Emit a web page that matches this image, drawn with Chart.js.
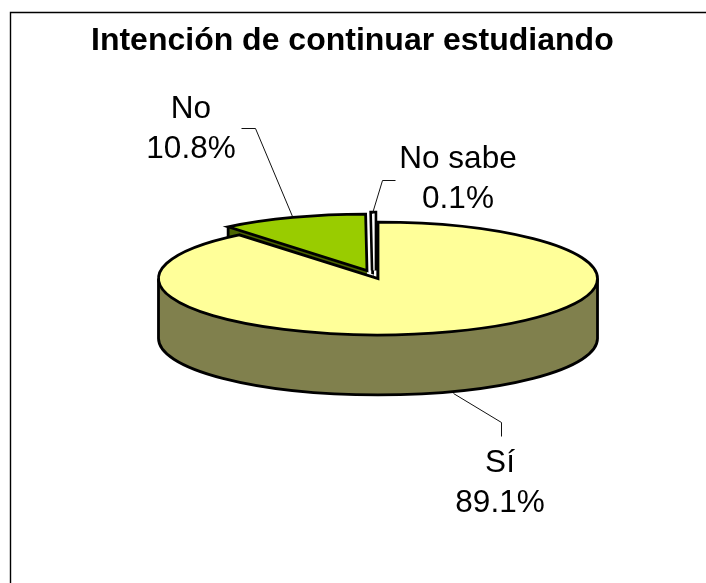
<!DOCTYPE html>
<html lang="es">
<head>
<meta charset="UTF-8">
<title>Intención de continuar estudiando</title>
<script src="https://cdn.jsdelivr.net/npm/chart.js"></script>
<style>
    html, body { margin: 0; padding: 0; background: #fff; }
    canvas { display: block; }
</style>
</head>
<body>
<canvas id="pie3d" width="706" height="583"></canvas>
<script>
const titleText = 'Intención de continuar estudiando';
const categories = ['Sí', 'No', 'No sabe'];
const values = [89.1, 10.8, 0.1];
const topColors = ['#ffff99', '#99cc00', '#ffffff'];
const sideColors = ['#80804d', '#4d6600', '#808080'];

// look of the fake 3D pie (the library only does flat ones)
const squash = 0.257;
const depth = 60;
const outline = 2.8;
const sliceShift = [{ x: 0, y: 0 }, { x: -11, y: -8 }, { x: -4, y: -8 }];
const drawOrder = [1, 2, 0];

// callouts: text centre + leader line, in page pixels
const labelCentres = [{ x: 500, y: 472 }, { x: 191, y: 118 }, { x: 458, y: 168 }];
const leaders = [
    [[453, 393], [501, 422], [501, 436]],
    [[292, 216], [255, 128], [241, 128]],
    [[372, 213], [382, 180], [395, 180]]
];

function drawWall(ctx, arc, i) {
    const r = arc.outerRadius, ry = r * squash;
    const cx = arc.x + sliceShift[i].x, cy = arc.y + sliceShift[i].y;
    const a0 = arc.startAngle, a1 = arc.endAngle;
    const px = a => cx + r * Math.cos(a);
    const py = a => cy + ry * Math.sin(a);

    ctx.fillStyle = sideColors[i];
    ctx.strokeStyle = '#000';
    ctx.lineWidth = outline;
    ctx.lineJoin = 'miter';

    // cut faces
    [a0, a1].forEach(a => {
        ctx.beginPath();
        ctx.moveTo(px(a), py(a));
        ctx.lineTo(cx, cy);
        ctx.lineTo(cx, cy + depth);
        ctx.lineTo(px(a), py(a) + depth);
        ctx.closePath();
        ctx.fill();
    });
    ctx.beginPath();
    ctx.moveTo(px(a0), py(a0));
    ctx.lineTo(px(a0), py(a0) + depth);
    ctx.stroke();

    // round face, only the front half can be seen
    const from = Math.max(a0, 0), to = Math.min(a1, Math.PI);
    if (to > from) {
        ctx.beginPath();
        ctx.ellipse(cx, cy, r, ry, 0, from, to);
        ctx.ellipse(cx, cy + depth, r, ry, 0, to, from, true);
        ctx.closePath();
        ctx.fill();
        ctx.beginPath();
        ctx.moveTo(px(from), py(from));
        ctx.ellipse(cx, cy + depth, r, ry, 0, from, to);
        ctx.lineTo(px(to), py(to));
        ctx.stroke();
    }
}

// lets Chart.js draw the arc squashed, but keeps the outline an even width
function drawTop(ctx, arc, i) {
    const plainStroke = ctx.stroke;
    ctx.stroke = function () {
        ctx.save();
        ctx.setTransform(1, 0, 0, 1, 0, 0);
        plainStroke.call(ctx);
        // the "No sabe" sliver is too thin to show its fill, so paint it back in
        if (i === 2) {
            ctx.strokeStyle = topColors[i];
            ctx.lineWidth = 1.3;
            plainStroke.call(ctx);
        }
        ctx.restore();
    };
    ctx.save();
    ctx.translate(arc.x + sliceShift[i].x, arc.y + sliceShift[i].y);
    ctx.scale(1, squash);
    ctx.translate(-arc.x, -arc.y);
    arc.draw(ctx);
    ctx.restore();
    delete ctx.stroke;
}

const pie3dPlugin = {
    id: 'pie3d',
    beforeDraw(chart) {
        const ctx = chart.ctx;
        ctx.save();
        ctx.strokeStyle = '#000';
        ctx.lineWidth = 1.4;
        ctx.beginPath();
        ctx.moveTo(10.5, 583);
        ctx.lineTo(10.5, 12.5);
        ctx.lineTo(706, 12.5);
        ctx.stroke();
        ctx.restore();
    },
    beforeDatasetDraw(chart) {
        const ctx = chart.ctx;
        const arcs = chart.getDatasetMeta(0).data;
        ctx.save();
        drawOrder.forEach(i => {
            drawWall(ctx, arcs[i], i);
            drawTop(ctx, arcs[i], i);
        });
        ctx.restore();
        return false;
    },
    afterDatasetsDraw(chart) {
        const ctx = chart.ctx;
        ctx.save();
        ctx.strokeStyle = '#111';
        ctx.lineWidth = 1;
        leaders.forEach(line => {
            ctx.beginPath();
            line.forEach((p, n) => n ? ctx.lineTo(p[0] + 0.5, p[1] + 0.5) : ctx.moveTo(p[0] + 0.5, p[1] + 0.5));
            ctx.stroke();
        });
        ctx.fillStyle = '#000';
        ctx.font = '31.5px "Liberation Sans", Arial, sans-serif';
        ctx.textAlign = 'center';
        ctx.textBaseline = 'alphabetic';
        categories.forEach((name, i) => {
            ctx.fillText(name, labelCentres[i].x, labelCentres[i].y);
            ctx.fillText(values[i].toFixed(1) + '%', labelCentres[i].x, labelCentres[i].y + 40);
        });
        ctx.restore();
    }
};

new Chart(document.getElementById('pie3d').getContext('2d'), {
    type: 'pie',
    data: {
        labels: categories,
        datasets: [{
            data: values,
            backgroundColor: topColors,
            borderColor: '#000',
            borderWidth: [outline, outline, 6.5],
            borderJoinStyle: 'miter'
        }]
    },
    plugins: [pie3dPlugin],
    options: {
        responsive: false,
        animation: false,
        radius: 219.5,
        layout: { padding: { left: 91, right: 41, top: 22, bottom: 94.4 } },
        plugins: {
            legend: { display: false },
            tooltip: { enabled: false },
            title: {
                display: true,
                text: titleText,
                align: 'start',
                color: '#000',
                font: { family: '"Liberation Sans", Arial, sans-serif', size: 32, weight: 'bold' },
                padding: { top: 0, bottom: 8 }
            }
        }
    }
});
</script>
</body>
</html>
